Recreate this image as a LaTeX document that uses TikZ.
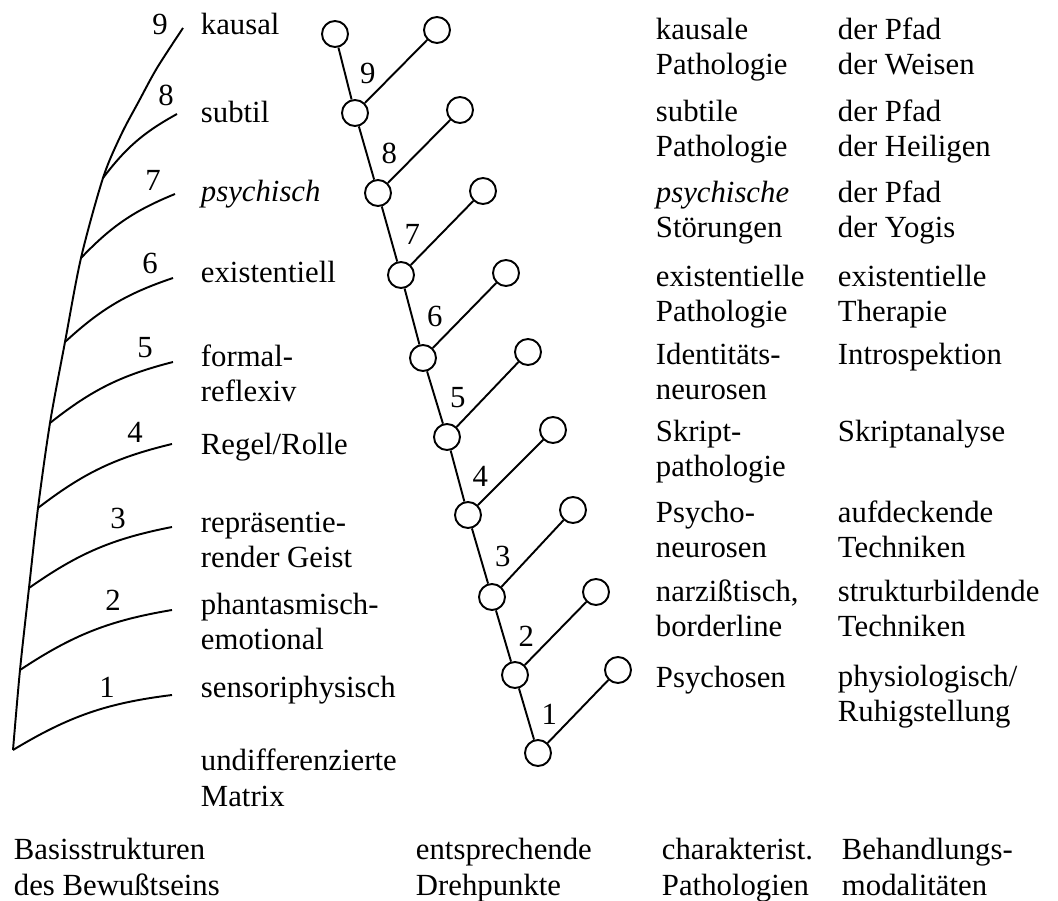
\documentclass[tikz,border=0pt]{standalone}
\usepackage{fontspec}
\setmainfont{Liberation Serif}
\usepackage{tikz}
\usetikzlibrary{positioning}

\begin{document}
\begin{tikzpicture}[
  x=0.02cm, y=-0.02cm,
  line width=1.1pt,
  dot/.style={draw, circle, inner sep=0pt, minimum size=14.8pt, fill=white},
  txt/.style={anchor=base west, inner sep=0pt, align=left,
              font=\fontsize{17.5}{20}\selectfont},
  num/.style={inner sep=0pt, font=\fontsize{17.5}{20}\selectfont}
]
  \useasboundingbox (0,0) rectangle (1058,901);

  % Basisstrukturen: Stamm mit Zweigen
  \coordinate (j1) at (13,750);
  \coordinate (j2) at (20,670);
  \coordinate (j3) at (29,588);
  \coordinate (j4) at (38,508);
  \coordinate (j5) at (50,423);
  \coordinate (j6) at (65,342);
  \coordinate (j7) at (81,258);
  \coordinate (j8) at (103,178);
  \coordinate (e1) at (172,695);
  \coordinate (e2) at (172,610);
  \coordinate (e3) at (172,527);
  \coordinate (e4) at (172,444);
  \coordinate (e5) at (173,362);
  \coordinate (e6) at (173,278);
  \coordinate (e7) at (175,194);
  \coordinate (e8) at (177,114);
  \coordinate (e9) at (183,28);

  \draw plot[smooth, tension=0.5] coordinates {(j1) (j2) (j3) (j4) (j5) (j6) (j7) (j8)
        (121,135) (139,101) (157,68) (e9)};
  \draw (j1) to[bend left=12] (e1);
  \draw (j2) to[bend left=12] (e2);
  \draw (j3) to[bend left=12] (e3);
  \draw (j4) to[bend left=12] (e4);
  \draw (j5) to[bend left=12] (e5);
  \draw (j6) to[bend left=12] (e6);
  \draw (j7) to[bend left=12] (e7);
  \draw (j8) to[bend left=12] (e8);

  \node[num] (lv9) at (160,24) {9};
  \node[num] (lv8) at (166,95) {8};
  \node[num] (lv7) at (153,180) {7};
  \node[num] (lv6) at (150,263) {6};
  \node[num] (lv5) at (145,348) {5};
  \node[num] (lv4) at (135,432) {4};
  \node[num] (lv3) at (118,518) {3};
  \node[num] (lv2) at (113,600) {2};
  \node[num] (lv1) at (107,687) {1};

  % Strukturen (Knoten sitzen auf der letzten Grundlinie)
  \node[txt] (st9) at (200,35) {kausal};
  \node[txt] (st8) at (200,123) {subtil};
  \node[txt] (st7) at (200,202) {\itshape psychisch};
  \node[txt] (st6) at (200,283) {existentiell};
  \node[txt] (st5) at (200,402) {formal-\\reflexiv};
  \node[txt] (st4) at (200,455) {Regel/Rolle};
  \node[txt] (st3) at (200,568) {repräsentie-\\render Geist};
  \node[txt] (st2) at (200,650) {phantasmisch-\\emotional};
  \node[txt] (st1) at (200,697) {sensoriphysisch};
  \node[txt] (st0) at (200,806) {undifferenzierte\\Matrix};

  % Drehpunkte
  \node[dot] (s0) at (335,34) {};
  \node[dot] (s1) at (355,113) {};
  \node[dot] (s2) at (378,193) {};
  \node[dot] (s3) at (401,275) {};
  \node[dot] (s4) at (423,358) {};
  \node[dot] (s5) at (447,437) {};
  \node[dot] (s6) at (468,515) {};
  \node[dot] (s7) at (492,597) {};
  \node[dot] (s8) at (515,675) {};
  \node[dot] (s9) at (538,753) {};
  \node[dot] (b1) at (437,30) {};
  \node[dot] (b2) at (460,110) {};
  \node[dot] (b3) at (483,191) {};
  \node[dot] (b4) at (506,273) {};
  \node[dot] (b5) at (528,352) {};
  \node[dot] (b6) at (553,430) {};
  \node[dot] (b7) at (573,510) {};
  \node[dot] (b8) at (596,592) {};
  \node[dot] (b9) at (618,670) {};

  \draw (s0) -- node[num, right=8pt] {9} (s1);
  \draw (s1) -- node[num, right=8pt] {8} (s2);
  \draw (s2) -- node[num, right=8pt] {7} (s3);
  \draw (s3) -- node[num, right=8pt] {6} (s4);
  \draw (s4) -- node[num, right=8pt] {5} (s5);
  \draw (s5) -- node[num, right=8pt] {4} (s6);
  \draw (s6) -- node[num, right=8pt] {3} (s7);
  \draw (s7) -- node[num, right=8pt] {2} (s8);
  \draw (s8) -- node[num, right=8pt] {1} (s9);
  \draw (s1) -- (b1);
  \draw (s2) -- (b2);
  \draw (s3) -- (b3);
  \draw (s4) -- (b4);
  \draw (s5) -- (b5);
  \draw (s6) -- (b6);
  \draw (s7) -- (b7);
  \draw (s8) -- (b8);
  \draw (s9) -- (b9);

  % Pathologien
  \node[txt] (pa9) at (655,75) {kausale\\Pathologie};
  \node[txt] (pa8) at (655,157) {subtile\\Pathologie};
  \node[txt] (pa7) at (655,238) {\textit{psychische}\\Störungen};
  \node[txt] (pa6) at (655,322) {existentielle\\Pathologie};
  \node[txt] (pa5) at (655,400) {Identitäts-\\neurosen};
  \node[txt] (pa4) at (655,477) {Skript-\\pathologie};
  \node[txt] (pa3) at (655,558) {Psycho-\\neurosen};
  \node[txt] (pa2) at (655,637) {narzißtisch,\\borderline};
  \node[txt] (pa1) at (655,687) {Psychosen};

  % Behandlungsmodalitaeten
  \node[txt] (th9) at (837,75) {der Pfad\\der Weisen};
  \node[txt] (th8) at (837,157) {der Pfad\\der Heiligen};
  \node[txt] (th7) at (837,238) {der Pfad\\der Yogis};
  \node[txt] (th6) at (837,322) {existentielle\\Therapie};
  \node[txt] (th5) at (837,365) {Introspektion};
  \node[txt] (th4) at (837,442) {Skriptanalyse};
  \node[txt] (th3) at (837,558) {aufdeckende\\Techniken};
  \node[txt] (th2) at (837,637) {strukturbildende\\Techniken};
  \node[txt] (th1) at (837,722) {physiologisch/\\Ruhigstellung};

  % Spaltenkoepfe unten
  \node[txt] (hdA) at (13,895) {Basisstrukturen\\des Bewußtseins};
  \node[txt] (hdB) at (415,895) {entsprechende\\Drehpunkte};
  \node[txt] (hdC) at (661,895) {charakterist.\\Pathologien};
  \node[txt] (hdD) at (841,895) {Behandlungs-\\modalitäten};
\end{tikzpicture}
\end{document}
